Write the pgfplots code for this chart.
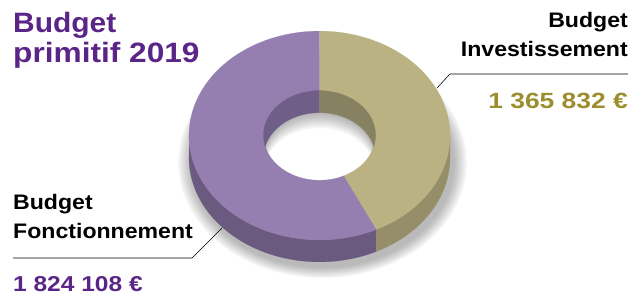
\documentclass[border=0pt]{standalone}
\usepackage{pgfplots}
\pgfplotsset{compat=1.18}
\usepackage{fontspec}
\setmainfont{Liberation Sans}
\usepackage{graphicx}

\definecolor{titlepurple}{HTML}{5B2587}
\definecolor{fonTop}{HTML}{957FB0}
\definecolor{fonSide}{HTML}{6A5A80}
\definecolor{fonWall}{HTML}{6F5F88}
\definecolor{invTop}{HTML}{BAB283}
\definecolor{invSide}{HTML}{958E69}
\definecolor{invWall}{HTML}{868161}
\definecolor{gold}{HTML}{9C8E2E}

% values in thousands of euros
\def\valInv{1365.832}
\def\valFon{1824.108}
\pgfmathsetmacro\fracInv{\valInv/(\valInv+\valFon)}
\pgfmathsetmacro\angInv{360*\fracInv}
\pgfmathsetmacro\thA{90-\angInv}
\pgfmathsetmacro\thB{450-\angInv}

\def\cx{319.5}\def\cy{160.5}
\def\RO{130.5}\def\RI{56}\def\k{0.8}\def\dd{22}
\pgfmathsetmacro\cang{asin(\dd/(2*\k*\RI))}

% #1 options, arc1: #2->#3 radius #4 offset #5 ; arc2: #6->#7 radius #8 offset #9
\newcommand\piece[9]{%
\addplot[#1, line width=0.2pt, domain=0:3, samples=301, variable=\t]
 ({\cx + (\t<1.5)*((#4)*cos((#2)+((#3)-(#2))*min(\t,1))) + (\t>=1.5)*((#8)*cos((#6)+((#7)-(#6))*max(\t-2,0)))},
  {\cy + (\t<1.5)*(\k*(#4)*sin((#2)+((#3)-(#2))*min(\t,1)) + (#5)) + (\t>=1.5)*(\k*(#8)*sin((#6)+((#7)-(#6))*max(\t-2,0)) + (#9))});}

\begin{document}
\begin{tikzpicture}
\begin{axis}[
  width=642pt, height=296pt, scale only axis,
  xmin=0, xmax=642, ymin=0, ymax=296,
  hide axis, clip=false]

\path (axis cs:0,0) rectangle (axis cs:642,296);

% soft shadow under the donut
\pgfplotsinvokeforeach{1,...,10}{
\addplot[fill=black, fill opacity=0.03, draw=none, domain=0:360, samples=120, variable=\t]
  ({\cx + 3 + (\RO + 1.4*#1)*cos(\t)}, {\cy - \dd - 5 + \k*(\RO + 1.4*#1)*sin(\t)});
}
% the hole is white again
\addplot[fill=white, draw=white, domain=0:360, samples=120, variable=\t]
  ({\cx + \RI*cos(\t)}, {\cy + \k*\RI*sin(\t)});

% outer side walls (front half)
\piece{fill=fonSide,draw=fonSide}{180}{\thB}{\RO}{0}{\thB}{180}{\RO}{-\dd}
\piece{fill=invSide,draw=invSide}{\thB}{360}{\RO}{0}{360}{\thB}{\RO}{-\dd}

% top faces
\piece{fill=fonTop,draw=fonTop}{90}{\thB}{\RO}{0}{\thB}{90}{\RI}{0}
\piece{fill=invTop,draw=invTop}{\thA}{90}{\RO}{0}{90}{\thA}{\RI}{0}

% shadow in the hole
\pgfplotsinvokeforeach{1,...,7}{
\pgfmathsetmacro\sang{asin(min((\dd+2.2*#1)/(2*\k*\RI),0.999))}
\piece{fill=black, fill opacity=0.045, draw=none}{-\sang}{180+\sang}{\RI}{0}{180-\sang}{\sang}{\RI}{-\dd-2.2*#1}
}

% inner walls (far half)
\piece{fill=fonWall,draw=fonWall}{90}{180+\cang}{\RI}{0}{180-\cang}{90}{\RI}{-\dd}
\piece{fill=invWall,draw=invWall}{-\cang}{90}{\RI}{0}{90}{\cang}{\RI}{-\dd}

% leader lines
\draw[black, line width=0.6pt] (axis cs:437,208) -- (axis cs:450,222) -- (axis cs:628,222);
\draw[black, line width=0.6pt] (axis cs:222,68) -- (axis cs:192,38) -- (axis cs:13,38);

% title
\node[anchor=base west, text=titlepurple, font={\fontsize{28}{30}\selectfont\bfseries}, inner sep=0pt]
  at (axis cs:13,263) {\scalebox{1.07}[1]{Budget}};
\node[anchor=base west, text=titlepurple, font={\fontsize{28}{30}\selectfont\bfseries}, inner sep=0pt]
  at (axis cs:13,233) {\scalebox{1.13}[1]{primitif 2019}};

% right label
\node[anchor=base east, font={\fontsize{21}{24}\selectfont\bfseries}, inner sep=0pt]
  at (axis cs:628,268) {\scalebox{1.1}[1]{Budget}};
\node[anchor=base east, font={\fontsize{21}{24}\selectfont\bfseries}, inner sep=0pt]
  at (axis cs:628,239) {\scalebox{1.1}[1]{Investissement}};
\node[anchor=base east, text=gold, font={\fontsize{22}{24}\selectfont\bfseries}, inner sep=0pt]
  at (axis cs:628,187.5) {\scalebox{1.2}[1]{1 365 832 €}};

% left label
\node[anchor=base west, font={\fontsize{21}{24}\selectfont\bfseries}, inner sep=0pt]
  at (axis cs:13,86) {\scalebox{1.1}[1]{Budget}};
\node[anchor=base west, font={\fontsize{21}{24}\selectfont\bfseries}, inner sep=0pt]
  at (axis cs:13,57) {\scalebox{1.1}[1]{Fonctionnement}};
\node[anchor=base west, text=titlepurple, font={\fontsize{21.5}{24}\selectfont\bfseries}, inner sep=0pt]
  at (axis cs:13,4) {\scalebox{1.14}[1]{1 824 108 €}};
\end{axis}
\end{tikzpicture}
\end{document}
